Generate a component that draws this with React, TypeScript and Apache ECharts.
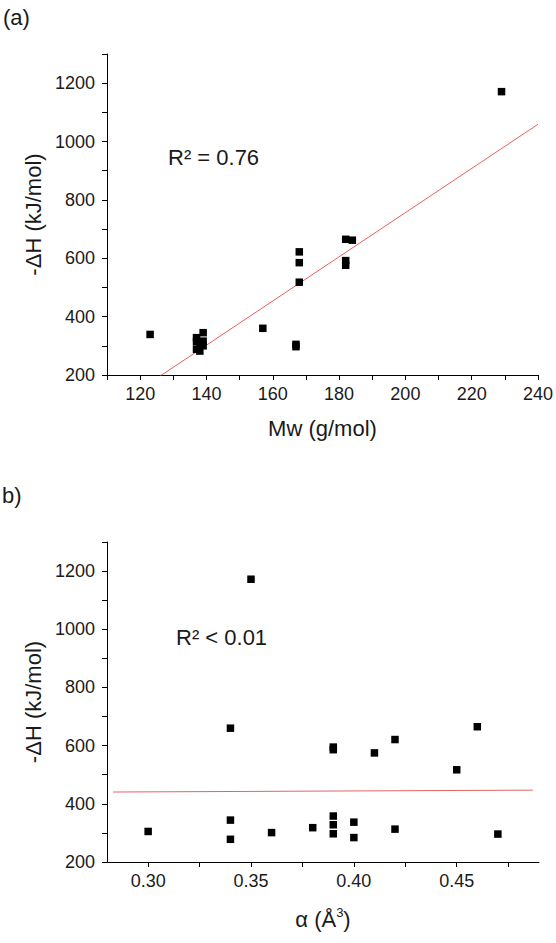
import React, { useEffect, useRef } from "react";
import * as echarts from "echarts";

// Panel (a): heat of reaction against molecular weight
const mwA = [123, 229, 182, 184, 168, 168, 168, 182, 182, 157, 167, 167, 137, 139, 137, 139, 139, 138, 137, 138];
const dhA = [339, 1171, 665, 662, 622, 585, 518, 592, 576, 360, 305, 297, 328, 345, 314, 316, 300, 282, 288, 305];

// Panel (b): heat of reaction against polarizability
const alphaB = [0.30, 0.34, 0.34, 0.34, 0.35, 0.36, 0.38, 0.39, 0.39, 0.39, 0.39, 0.39, 0.40, 0.40, 0.41, 0.42, 0.42, 0.45, 0.46, 0.47];
const dhB = [305, 660, 344, 278, 1172, 301, 318, 595, 586, 358, 328, 297, 337, 284, 575, 621, 313, 517, 665, 296];

// Tick labels
const mwTickLabels = [120, 140, 160, 180, 200, 220, 240];
const alphaTickLabels = [0.30, 0.35, 0.40, 0.45];
const dhTickLabels = [200, 400, 600, 800, 1000, 1200];

// Linear fits (y = intercept + slope * x) and the x span each is drawn over
const fitA = { slope: 7.57, intercept: -757.6, from: 110, to: 240 };
const fitB = { slope: 31.9, intercept: 431.5, from: 0.283, to: 0.487 };

const FONT = "'Liberation Sans', Arial, sans-serif";
const INK = "#1a1a1a";
const FIT = "#e66262";

// major ticks plus one minor tick halfway between neighbours
function withMinor(vals: number[], step: number, lo: number, hi: number): number[] {
  const out: number[] = [];
  const half = step / 2;
  const start = vals[0] - half * Math.ceil((vals[0] - lo) / half - 1e-9);
  for (let v = start; v <= hi + 1e-9; v += half) out.push(Math.round(v * 10000) / 10000);
  return out;
}

function fitLine(f: { slope: number; intercept: number; from: number; to: number }) {
  return [
    [f.from, f.intercept + f.slope * f.from],
    [f.to, f.intercept + f.slope * f.to],
  ];
}

function yAxisOf(gridIndex: number) {
  return {
    type: "value",
    gridIndex,
    min: 200,
    max: 1300,
    name: "-ΔH (kJ/mol)",
    nameLocation: "middle",
    nameGap: 59,
    nameTextStyle: { fontSize: 22, color: INK, fontFamily: FONT },
    axisLine: { show: true, lineStyle: { color: "#000", width: 1 } },
    axisTick: { show: true, length: 5, lineStyle: { color: "#000" }, customValues: withMinor(dhTickLabels, 200, 200, 1300) },
    axisLabel: {
      customValues: dhTickLabels,
      fontSize: 18,
      color: INK,
      fontFamily: FONT,
      margin: 12,
      formatter: (v: number) => String(v),
    },
    splitLine: { show: false },
  };
}

function scatterOf(index: number, xs: number[], ys: number[]) {
  return {
    type: "scatter",
    xAxisIndex: index,
    yAxisIndex: index,
    symbol: "rect",
    symbolSize: 7.5,
    itemStyle: { color: "#000", opacity: 1 },
    data: xs.map((x, i) => [x, ys[i]]),
    z: 3,
  };
}

function fitSeries(index: number, f: { slope: number; intercept: number; from: number; to: number }) {
  return {
    type: "line",
    xAxisIndex: index,
    yAxisIndex: index,
    showSymbol: false,
    clip: true,
    lineStyle: { color: FIT, width: 1 },
    data: fitLine(f),
    z: 2,
  };
}

export default function App() {
  const ref = useRef<HTMLDivElement>(null);

  useEffect(() => {
    if (!ref.current) return;
    const chart = echarts.init(ref.current, undefined, { renderer: "svg" });
    chart.setOption({
      animation: false,
      backgroundColor: "#fff",
      grid: [
        { left: 107, top: 54, width: 433, height: 321 },
        { left: 107, top: 542, width: 432, height: 320 },
      ],
      xAxis: [
        {
          type: "value",
          gridIndex: 0,
          min: 110,
          max: 240,
          name: "Mw (g/mol)",
          nameLocation: "middle",
          nameGap: 42,
          nameTextStyle: { fontSize: 22, color: INK, fontFamily: FONT },
          axisLine: { show: true, lineStyle: { color: "#000", width: 1 } },
          axisTick: { show: true, length: 5, lineStyle: { color: "#000" }, customValues: withMinor(mwTickLabels, 20, 110, 240) },
          axisLabel: {
            customValues: mwTickLabels,
            fontSize: 18,
            color: INK,
            fontFamily: FONT,
            margin: 10,
            formatter: (v: number) => String(v),
          },
          splitLine: { show: false },
        },
        {
          type: "value",
          gridIndex: 1,
          min: 0.28,
          max: 0.49,
          name: "α (Å{sup|3})",
          nameLocation: "middle",
          nameGap: 44,
          nameTextStyle: {
            fontSize: 22,
            color: INK,
            fontFamily: FONT,
            rich: { sup: { fontSize: 13, color: INK, fontFamily: FONT, verticalAlign: "top", padding: [0, 0, 14, 0] } },
          },
          axisLine: { show: true, lineStyle: { color: "#000", width: 1 } },
          axisTick: { show: true, length: 5, lineStyle: { color: "#000" }, customValues: withMinor(alphaTickLabels, 0.05, 0.28, 0.49) },
          axisLabel: {
            customValues: alphaTickLabels,
            fontSize: 18,
            color: INK,
            fontFamily: FONT,
            margin: 10,
            formatter: (v: number) => v.toFixed(2),
          },
          splitLine: { show: false },
        },
      ],
      yAxis: [yAxisOf(0), yAxisOf(1)],
      series: [scatterOf(0, mwA, dhA), fitSeries(0, fitA), scatterOf(1, alphaB, dhB), fitSeries(1, fitB)],
      graphic: [
        { type: "text", left: 3, top: 6, style: { text: "(a)", fontSize: 22, fill: INK, fontFamily: FONT } },
        { type: "text", left: 2, top: 484, style: { text: "b)", fontSize: 22, fill: INK, fontFamily: FONT } },
        { type: "text", left: 168, top: 146, style: { text: "R² = 0.76", fontSize: 22, fill: INK, fontFamily: FONT } },
        { type: "text", left: 176, top: 626, style: { text: "R² < 0.01", fontSize: 22, fill: INK, fontFamily: FONT } },
      ],
    });
    return () => chart.dispose();
  }, []);

  return <div ref={ref} style={{ position: "absolute", left: 0, top: 0, width: 556, height: 943 }} />;
}
